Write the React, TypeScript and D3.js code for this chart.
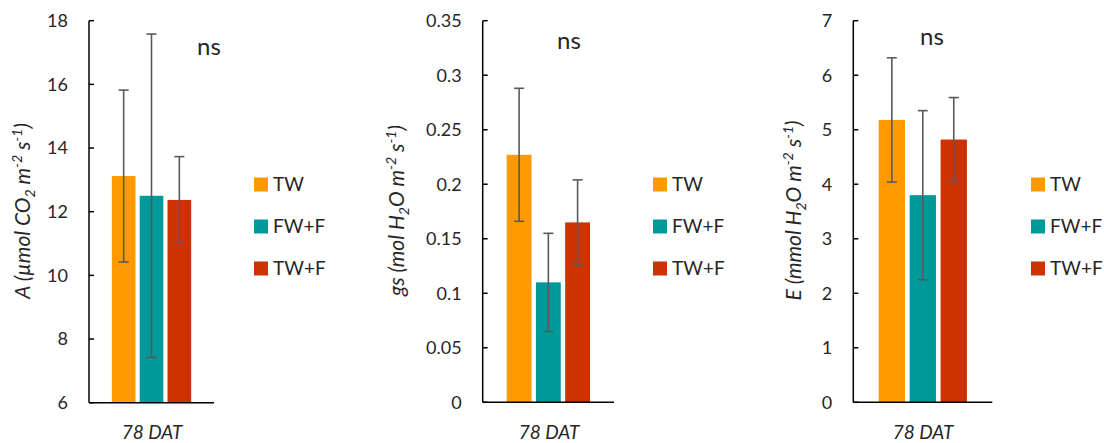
import React from "react";
import * as d3 from "d3";

const categories = ["TW", "FW+F", "TW+F"];
const colors = ["#FF9900", "#009999", "#CC3300"];

const aMeans = [13.12, 12.5, 12.37];
const aErr = [2.7, 5.08, 1.36];
const aTicks = [6, 8, 10, 12, 14, 16, 18];
const aTickLabels = ["6", "8", "10", "12", "14", "16", "18"];

const gsMeans = [0.227, 0.11, 0.165];
const gsErr = [0.061, 0.045, 0.039];
const gsTicks = [0, 0.05, 0.1, 0.15, 0.2, 0.25, 0.3, 0.35];
const gsTickLabels = ["0", "0.05", "0.1", "0.15", "0.2", "0.25", "0.3", "0.35"];

const eMeans = [5.18, 3.8, 4.82];
const eErr = [1.14, 1.55, 0.77];
const eTicks = [0, 1, 2, 3, 4, 5, 6, 7];
const eTickLabels = ["0", "1", "2", "3", "4", "5", "6", "7"];

const xLabel = "78 DAT";
const sigLabel = "ns";

type Part = { t: string; s?: "sub" | "sup" };
const aLabel: Part[] = [
  { t: "A (µmol CO" }, { t: "2", s: "sub" }, { t: " m" }, { t: "-2", s: "sup" }, { t: " s" }, { t: "-1", s: "sup" }, { t: ")" },
];
const gsLabel: Part[] = [
  { t: "gs (mol H" }, { t: "2", s: "sub" }, { t: "O m" }, { t: "-2", s: "sup" }, { t: " s" }, { t: "-1", s: "sup" }, { t: ")" },
];
const eLabel: Part[] = [
  { t: "E (mmol H" }, { t: "2", s: "sub" }, { t: "O m" }, { t: "-2", s: "sup" }, { t: " s" }, { t: "-1", s: "sup" }, { t: ")" },
];

const FONT = "Lato, 'Open Sans', sans-serif";

type PanelSpec = {
  axisX: number;
  right: number;
  top: number;
  bottom: number;
  domain: [number, number];
  ticks: number[];
  tickLabels: string[];
  means: number[];
  errs: number[];
  label: Part[];
  labelX: number;
  labelY: number;
  nsX: number;
  nsY: number;
  legX: number;
  xLabX: number;
};

const panels: PanelSpec[] = [
  { axisX: 89, right: 214, top: 20.7, bottom: 402.7, domain: [6, 18], ticks: aTicks, tickLabels: aTickLabels, means: aMeans, errs: aErr, label: aLabel, labelX: 30, labelY: 211, nsX: 209, nsY: 55, legX: 254, xLabX: 152 },
  { axisX: 482.7, right: 614, top: 20.7, bottom: 402.3, domain: [0, 0.35], ticks: gsTicks, tickLabels: gsTickLabels, means: gsMeans, errs: gsErr, label: gsLabel, labelX: 404, labelY: 210.5, nsX: 569, nsY: 49, legX: 653, xLabX: 549 },
  { axisX: 853.3, right: 992.3, top: 20.7, bottom: 402.3, domain: [0, 7], ticks: eTicks, tickLabels: eTickLabels, means: eMeans, errs: eErr, label: eLabel, labelX: 801, labelY: 210.5, nsX: 932, nsY: 45, legX: 1031, xLabX: 923 },
];

const legendY = [184.5, 226.5, 268.5];

function Panel({ p }: { p: PanelSpec }) {
  const y = d3.scaleLinear().domain(p.domain).range([p.bottom, p.top]);
  const x = d3.scaleBand<string>().domain(categories).range([p.axisX, p.right]).paddingInner(0.15).paddingOuter(0.82);
  const bw = x.bandwidth();
  let shift = 0;
  return (
    <g>
      {categories.map((c, i) => {
        const v = p.means[i];
        const e = p.errs[i];
        const bx = x(c)!;
        const cx = bx + bw / 2;
        return (
          <g key={c}>
            <rect x={bx} y={y(v)} width={bw} height={p.bottom - y(v)} fill={colors[i]} />
            <line x1={cx} x2={cx} y1={y(v - e)} y2={y(v + e)} stroke="#595959" strokeWidth={1.6} />
            <line x1={cx - 5} x2={cx + 5} y1={y(v - e)} y2={y(v - e)} stroke="#595959" strokeWidth={1.6} />
            <line x1={cx - 5} x2={cx + 5} y1={y(v + e)} y2={y(v + e)} stroke="#595959" strokeWidth={1.6} />
          </g>
        );
      })}
      <line x1={p.axisX} x2={p.axisX} y1={p.top} y2={p.bottom} stroke="#000" strokeWidth={1.5} />
      <line x1={p.axisX} x2={p.right} y1={p.bottom} y2={p.bottom} stroke="#000" strokeWidth={1.5} />
      {p.ticks.map((t, i) => (
        <g key={i}>
          <line x1={p.axisX} x2={p.axisX + 5} y1={y(t)} y2={y(t)} stroke="#000" strokeWidth={1.5} />
          <text x={p.axisX - 21} y={y(t)} dy="0.35em" textAnchor="end" fontSize={18} fill="#262626" fontFamily={FONT}>
            {p.tickLabels[i]}
          </text>
        </g>
      ))}
      <text
        transform={`translate(${p.labelX},${p.labelY}) rotate(-90)`}
        textAnchor="middle"
        dy="0.35em"
        fontSize={21}
        fontStyle="italic"
        fill="#262626"
        fontFamily={FONT}
      >
        {p.label.map((part, k) => {
          let dy = 0;
          let fs: number | undefined = undefined;
          if (part.s === "sub") {
            dy = 5 - shift;
            shift = 5;
            fs = 14;
          } else if (part.s === "sup") {
            dy = -8 - shift;
            shift = -8;
            fs = 14;
          } else {
            dy = -shift;
            shift = 0;
          }
          return (
            <tspan key={k} dy={dy} fontSize={fs}>
              {part.t}
            </tspan>
          );
        })}
      </text>
      <text x={p.nsX} y={p.nsY} textAnchor="middle" fontSize={24} fill="#262626" fontFamily={FONT}>
        {sigLabel}
      </text>
      <text x={p.xLabX} y={439} textAnchor="middle" fontSize={19} fontStyle="italic" fill="#262626" fontFamily={FONT}>
        {xLabel}
      </text>
      {categories.map((c, i) => (
        <g key={"l" + c}>
          <rect x={p.legX} y={legendY[i] - 7} width={14} height={14} fill={colors[i]} />
          <text x={p.legX + 19} y={legendY[i]} dy="0.36em" fontSize={19} fill="#262626" fontFamily={FONT}>
            {c}
          </text>
        </g>
      ))}
    </g>
  );
}

export default function App() {
  return (
    <svg
      width={1104}
      height={443}
      style={{ position: "absolute", left: 0, top: 0, background: "#fff" }}
    >
      <rect width={1104} height={443} fill="#fff" />
      {panels.map((p, i) => (
        <Panel key={i} p={p} />
      ))}
    </svg>
  );
}
